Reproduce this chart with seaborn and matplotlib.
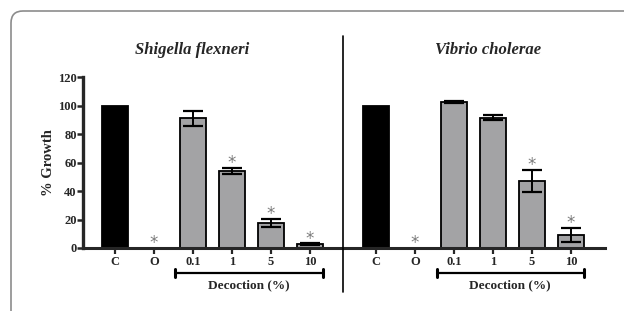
import matplotlib
matplotlib.use('Agg')
import matplotlib.pyplot as plt
import seaborn as sns
import pandas as pd
from matplotlib.patches import FancyBboxPatch
from matplotlib.lines import Line2D

# Dados
categorias = ['C', 'O', '0.1', '1', '5', '10']
shigella_media = [100, 0, 91, 54, 17.5, 2.7]
shigella_erro = [0, 0, 5.3, 2, 2.8, 0.5]
vibrio_media = [100, 0, 102.5, 91.5, 47, 9]
vibrio_erro = [0, 0, 0.6, 2, 8, 5]
significativo = [False, True, False, True, True, True]
vibrio_signif = [False, True, False, False, True, True]

sns.set_style('white')
plt.rcParams['font.family'] = ['Liberation Serif', 'DejaVu Serif']
plt.rcParams['font.weight'] = 'bold'

cores = ['black', '#a2a2a6', '#a2a2a6', '#a2a2a6', '#a2a2a6', '#a2a2a6']

fig = plt.figure(figsize=(6.24, 3.11), dpi=100)
ax1 = fig.add_axes([83 / 624, 1 - 248 / 311, 260 / 624, 171 / 311])
ax2 = fig.add_axes([343 / 624, 1 - 248 / 311, 262 / 624, 171 / 311])

# Moldura arredondada (em polegadas)
moldura = FancyBboxPatch((0.11, -1.0), 7.0, 3.11 - 0.11 + 1.0,
                         boxstyle='round,pad=0,rounding_size=0.12',
                         transform=fig.dpi_scale_trans, fill=False,
                         edgecolor='#8c8c8c', lw=1.2, zorder=0)
fig.patches.append(moldura)


def painel(ax, medias, erros, signif, xlim):
    df = pd.DataFrame({'cat': categorias, 'val': medias})
    sns.barplot(data=df, x='cat', y='val', hue='cat', palette=cores,
                legend=False, width=0.68, edgecolor='black', linewidth=1.3,
                ax=ax, order=categorias)
    xs = list(range(len(categorias)))
    ex = [x for x, e in zip(xs, erros) if e > 0]
    ey = [m for m, e in zip(medias, erros) if e > 0]
    ee = [e for e in erros if e > 0]
    ax.errorbar(ex, ey, yerr=ee, fmt='none', ecolor='black', elinewidth=1.4,
                capsize=7, capthick=1.6, zorder=5)
    for x, m, e, s in zip(xs, medias, erros, signif):
        if s:
            ax.text(x, m + e - 3, '*', ha='center', va='bottom',
                    fontsize=12, color='#7a7a7a', fontweight='normal',
                    family='DejaVu Sans')
    ax.set_xlim(*xlim)
    ax.set_ylim(0, 120)
    ax.set_xlabel('')
    ax.set_ylabel('')
    ax.tick_params(axis='x', direction='out', length=4, width=1.6,
                   labelsize=9, pad=2, bottom=True)
    # colchete "Decoction"
    ax.plot([1.55, 5.33], [-0.146, -0.146], color='black', lw=1.6,
            transform=ax.get_xaxis_transform(), clip_on=False)
    for xb in [1.55, 5.33]:
        ax.plot([xb, xb], [-0.122, -0.170], color='black', lw=2.2,
                transform=ax.get_xaxis_transform(), clip_on=False)
    ax.text(3.44, -0.216, 'Decoction (%)', ha='center', va='center',
            fontsize=9.5, fontweight='bold', transform=ax.get_xaxis_transform())
    sns.despine(ax=ax)


painel(ax1, shigella_media, shigella_erro, significativo, (-0.82, 5.85))
painel(ax2, vibrio_media, vibrio_erro, vibrio_signif, (-0.85, 5.87))

# Títulos
fig.text(192 / 624, 1 - 50 / 311, 'Shigella flexneri', ha='center',
         va='center', fontsize=12, fontstyle='italic', fontweight='bold')
fig.text(488 / 624, 1 - 50 / 311, 'Vibrio cholerae', ha='center',
         va='center', fontsize=12, fontstyle='italic', fontweight='bold')

ax1.spines['left'].set_linewidth(2.4)
ax1.spines['bottom'].set_linewidth(2.2)
ax2.spines['bottom'].set_linewidth(2.2)
ax2.spines['left'].set_visible(False)
ax1.set_yticks([0, 20, 40, 60, 80, 100, 120])
ax1.tick_params(axis='y', direction='out', length=4, width=1.8,
                labelsize=9, pad=0.5, left=True)
ax2.set_yticks([])
ax1.set_ylabel('% Growth', fontsize=10.5, fontweight='bold', labelpad=2)

# Linha separadora
fig.add_artist(Line2D([343 / 624, 343 / 624], [1 - 292 / 311, 1 - 36 / 311],
                      color='black', lw=1.2, transform=fig.transFigure))

fig.savefig('out.png', dpi=100)
